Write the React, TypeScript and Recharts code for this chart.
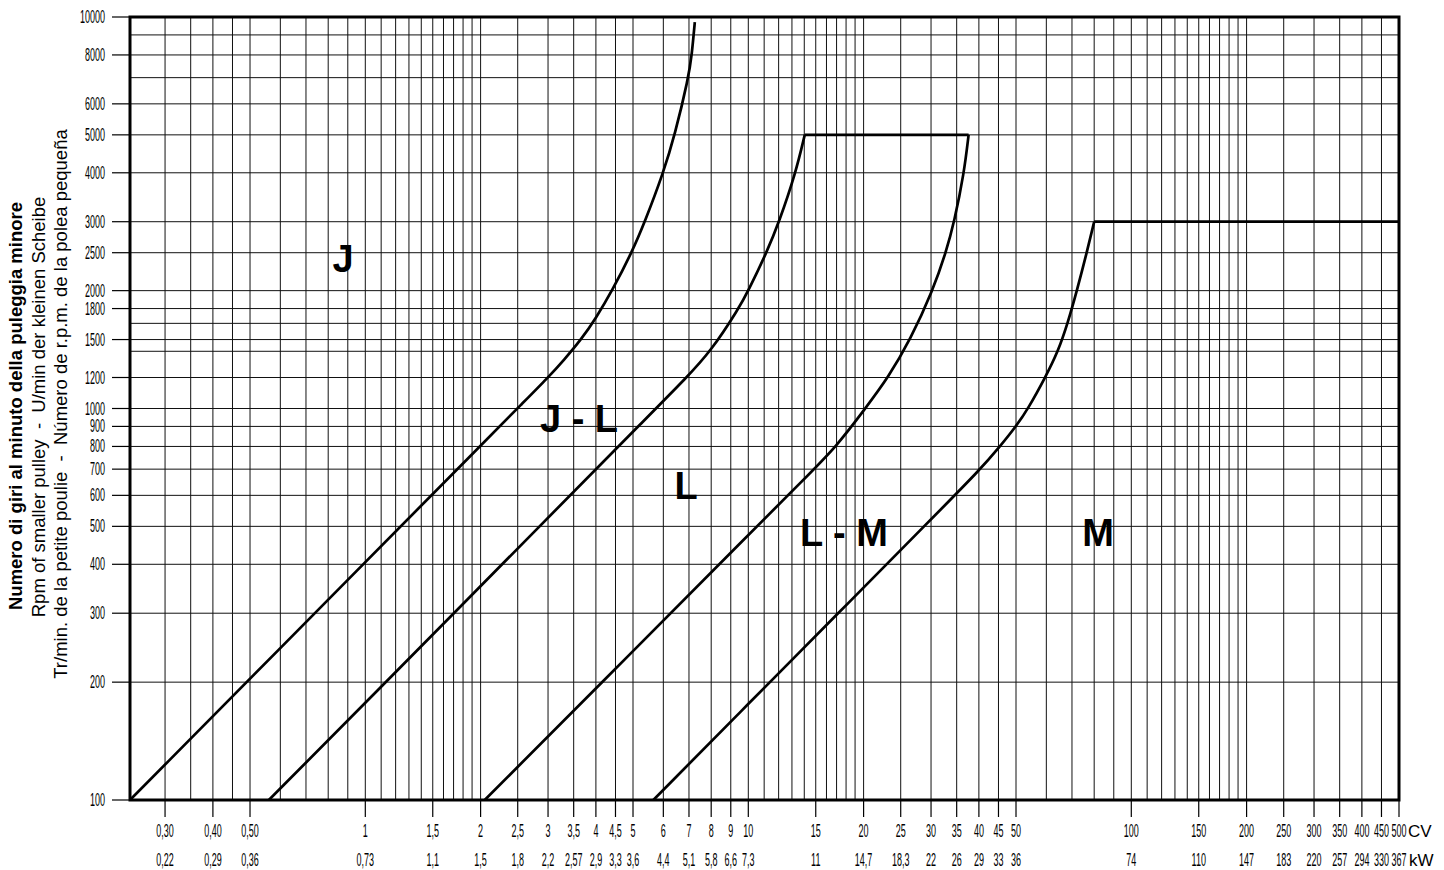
import React from 'react';
import { LineChart, Line, XAxis, YAxis, CartesianGrid, ReferenceArea } from 'recharts';

// grid values on the power axis (CV), log scale
const cvGrid = [
  0.3, 0.35, 0.4, 0.45, 0.5, 0.6, 0.7, 0.8, 0.9,
  1, 1.1, 1.2, 1.3, 1.4, 1.5, 1.6, 1.7, 1.8, 1.9, 2, 2.5, 3, 3.5, 4, 4.5, 5, 6, 7, 8, 9,
  10, 11, 12, 13, 14, 15, 16, 17, 18, 19, 20, 25, 30, 35, 40, 45, 50, 60, 70, 80, 90,
  100, 110, 120, 130, 140, 150, 160, 170, 180, 190, 200, 250, 300, 350, 400, 450, 500,
];
const cvLabelled = [
  0.3, 0.4, 0.5, 1, 1.5, 2, 2.5, 3, 3.5, 4, 4.5, 5, 6, 7, 8, 9, 10, 15, 20, 25, 30, 35, 40, 45, 50,
  100, 150, 200, 250, 300, 350, 400, 450, 500,
];
const cvText = [
  '0,30', '0,40', '0,50', '1', '1,5', '2', '2,5', '3', '3,5', '4', '4,5', '5', '6', '7', '8', '9', '10',
  '15', '20', '25', '30', '35', '40', '45', '50', '100', '150', '200', '250', '300', '350', '400', '450', '500',
];
const kwText = [
  '0,22', '0,29', '0,36', '0,73', '1,1', '1,5', '1,8', '2,2', '2,57', '2,9', '3,3', '3,6', '4,4', '5,1', '5,8', '6,6', '7,3',
  '11', '14,7', '18,3', '22', '26', '29', '33', '36', '74', '110', '147', '183', '220', '257', '294', '330', '367',
];

// grid values on the speed axis (rpm), log scale
const rpmGrid = [
  100, 200, 300, 400, 500, 600, 700, 800, 900, 1000, 1200, 1400, 1500, 1650, 1800, 2000,
  2500, 3000, 4000, 5000, 6000, 7000, 8000, 9000, 10000,
];
const rpmLabelled = [
  100, 200, 300, 400, 500, 600, 700, 800, 900, 1000, 1200, 1500, 1800, 2000,
  2500, 3000, 4000, 5000, 6000, 8000, 10000,
];

// boundary curves between belt sections
const jCv = [0.243, 1, 2, 2.6, 3, 3.3, 3.66, 4, 4.41, 4.96, 5.37, 6, 6.43, 6.98, 7.12, 7.25];
const jRpm = [100, 405, 804, 1042, 1200, 1330, 1500, 1700, 2000, 2500, 3000, 4000, 5000, 7000, 8000, 9700];

const jlCv = [0.56, 1, 3, 5.5, 6.9, 7.98, 9.44, 10, 11.16, 12.04, 13.3, 14.04];
const jlRpm = [100, 177, 526, 959, 1200, 1400, 1800, 2000, 2500, 3000, 4000, 5000];
const jlTopCv = [14.04, 37.6];
const jlTopRpm = [5000, 5000];

const lCv = [2.05, 5, 10, 14, 17, 20.2, 23.2, 26.5, 30.3, 32.8, 34.5, 36.6, 37.6];
const lRpm = [100, 240, 475, 661, 800, 1000, 1200, 1500, 2000, 2500, 3000, 4000, 5000];

const lmCv = [5.65, 10, 17, 30, 40.4, 45.4, 50, 53.8, 59.6, 64.4, 68.2, 72.1, 76.5, 80];
const lmRpm = [100, 176, 297, 521, 700, 800, 900, 1000, 1200, 1400, 1650, 2000, 2500, 3000];
const lmTopCv = [80, 500];
const lmTopRpm = [3000, 3000];

const zip = (cv: number[], rpm: number[]) => cv.map((c, i) => ({ cv: c, rpm: rpm[i] }));

const SANS = 'Liberation Sans, Arial, sans-serif';

function NarrowText({ x, y, anchor, children }: any) {
  return (
    <text transform={`translate(${x},${y}) scale(0.5,1)`} textAnchor={anchor} fontFamily={SANS} fontSize={18} fill="#000">
      {children}
    </text>
  );
}

function CvTick(props: any) {
  const { x, y, payload } = props;
  const i = cvLabelled.indexOf(payload.value);
  if (i < 0) return <g />;
  return (
    <g>
      <line x1={x} x2={x} y1={y} y2={y + 17} stroke="#000" strokeWidth={1.2} />
      <NarrowText x={x} y={y + 37} anchor="middle">{cvText[i]}</NarrowText>
      <NarrowText x={x} y={y + 66} anchor="middle">{kwText[i]}</NarrowText>
    </g>
  );
}

function RpmTick(props: any) {
  const { x, y, payload } = props;
  if (!rpmLabelled.includes(payload.value)) return <g />;
  return (
    <g>
      <line x1={x - 18} x2={x} y1={y} y2={y} stroke="#000" strokeWidth={1.2} />
      <NarrowText x={x - 25} y={y + 6} anchor="end">{payload.value}</NarrowText>
    </g>
  );
}

function Notes() {
  const big = { fontFamily: SANS, fontWeight: 700, fontSize: 38, fill: '#000', textAnchor: 'middle' as const };
  const side = { fontFamily: SANS, fontSize: 18.5, fill: '#000', textAnchor: 'middle' as const, style: { whiteSpace: 'pre' as const } };
  return (
    <g>
      <text x={343} y={272} {...big}>J</text>
      <text x={579} y={432} {...big} style={{ whiteSpace: 'pre' }}>J - L</text>
      <text x={686} y={499} {...big}>L</text>
      <text x={844} y={546} {...big} style={{ whiteSpace: 'pre' }}>L - M</text>
      <text x={1098} y={546} {...big}>M</text>

      <text transform="translate(22,406) rotate(-90)" {...side} fontWeight={700}>
        Numero di giri al minuto della puleggia minore
      </text>
      <text transform="translate(45,407) rotate(-90)" {...side}>
        {'Rpm of smaller pulley  -  U/min der kleinen Scheibe'}
      </text>
      <text transform="translate(67,404) rotate(-90)" {...side}>
        {'Tr/min. de la petite poulie  -  Número de r.p.m. de la polea pequeña'}
      </text>

      <text x={1408} y={837} fontFamily={SANS} fontSize={17} fill="#000">CV</text>
      <text x={1409} y={866} fontFamily={SANS} fontSize={17} fill="#000">kW</text>
    </g>
  );
}

export default function App() {
  const curve = { stroke: '#000', strokeWidth: 2.7, dot: false, isAnimationActive: false, dataKey: 'rpm' };
  return (
    <div style={{ position: 'absolute', left: 0, top: 0, width: 1444, height: 870, background: '#fff' }}>
      <LineChart width={1444} height={870} margin={{ top: 17, right: 45, bottom: 10, left: 80 }}>
        <CartesianGrid stroke="#111" strokeWidth={1} />
        <XAxis
          dataKey="cv"
          type="number"
          scale="log"
          domain={[0.243, 500]}
          allowDataOverflow
          ticks={cvGrid}
          interval={0}
          tick={<CvTick />}
          tickLine={false}
          tickSize={0}
          tickMargin={0}
          axisLine={false}
          height={60}
        />
        <YAxis
          type="number"
          scale="log"
          domain={[100, 10000]}
          allowDataOverflow
          ticks={rpmGrid}
          interval={0}
          tick={<RpmTick />}
          tickLine={false}
          tickSize={0}
          tickMargin={0}
          axisLine={false}
          width={50}
        />
        <ReferenceArea x1={0.243} x2={500} y1={100} y2={10000} fill="none" stroke="#000" strokeWidth={3} ifOverflow="visible" />
        <Line data={zip(jCv, jRpm)} type="basis" {...curve} />
        <Line data={zip(jlCv, jlRpm)} type="basis" {...curve} />
        <Line data={zip(jlTopCv, jlTopRpm)} type="linear" {...curve} />
        <Line data={zip(lCv, lRpm)} type="basis" {...curve} />
        <Line data={zip(lmCv, lmRpm)} type="basis" {...curve} />
        <Line data={zip(lmTopCv, lmTopRpm)} type="linear" {...curve} />
        <Notes />
      </LineChart>
    </div>
  );
}
